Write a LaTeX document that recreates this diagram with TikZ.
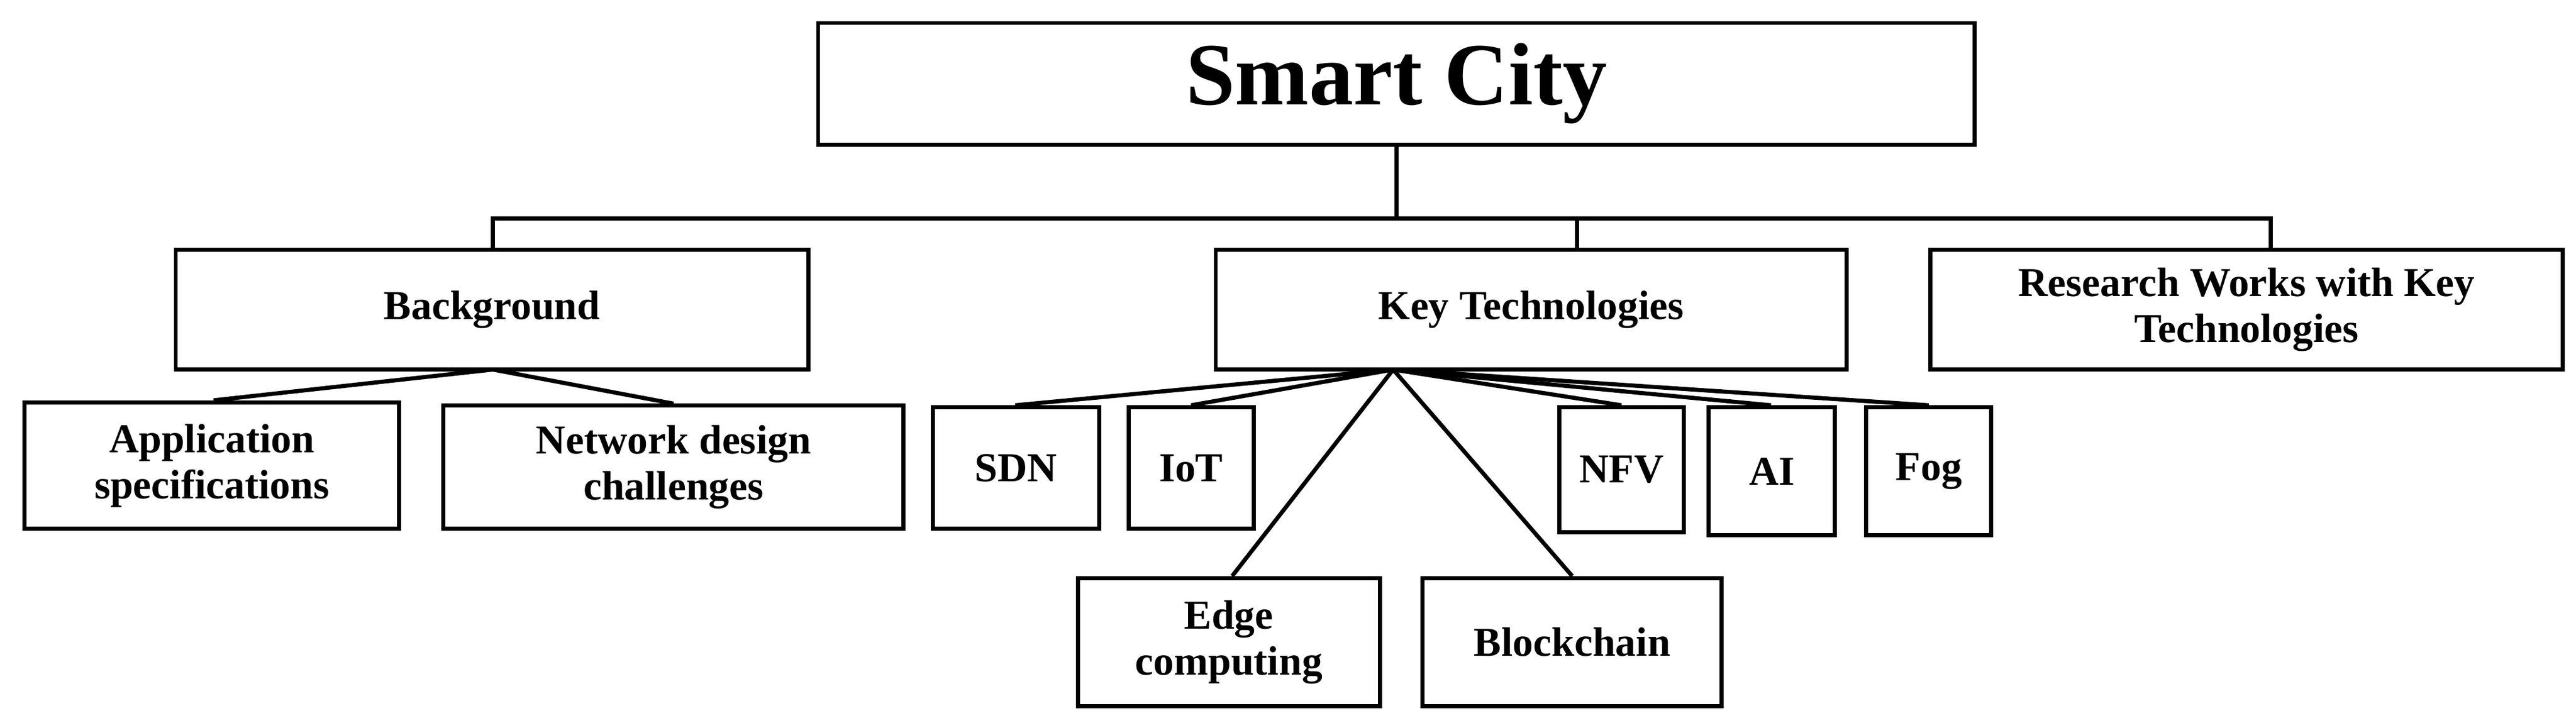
\documentclass[tikz,border=0pt]{standalone}
\usepackage{fontspec}
\setmainfont{Liberation Serif}
\begin{document}
\begin{tikzpicture}[x=1pt,y=-1pt,
  bx/.style={draw,line width=2.5pt,inner sep=0pt,align=center,font=\fontsize{25}{28}\selectfont\bfseries},
  ln/.style={line width=2.5pt}]
\useasboundingbox (0,0) rectangle (1568,440);
\newcommand{\bxn}[6]{\node[bx,minimum width={#4-#3},minimum height={#6-#5}] (#1) at ({(#3+#4)/2},{(#5+#6)/2}) {#2};}
\node[bx,minimum width=704,minimum height=74,font=\fontsize{54}{60}\selectfont\bfseries] (sc) at (850,51) {Smart City};
\bxn{bg}{Background}{107}{492}{152}{225}
\bxn{kt}{Key Technologies}{740}{1124}{152}{225}
\bxn{rw}{Research Works with Key\\Technologies}{1175}{1560}{152}{225}
\bxn{ap}{Application\\specifications}{15}{243}{245}{322}
\bxn{nd}{Network design\\challenges}{270}{550}{247}{322}
\bxn{sdn}{SDN}{568}{669}{248}{322}
\bxn{iot}{IoT}{687}{763}{248}{322}
\bxn{nfv}{NFV}{949}{1025}{248}{324}
\bxn{ai}{AI}{1040}{1117}{248}{326}
\bxn{fog}{Fog}{1136}{1212}{248}{326}
\bxn{ec}{Edge\\computing}{656}{840}{352}{430}
\bxn{bc}{Blockchain}{866}{1048}{352}{430}
\coordinate (j) at (850,133);
\draw[ln] (sc.south) -- (j);
\draw[ln] (bg.north -| 300,0) |- (j) -| (rw.north -| 1382,0);
\draw[ln] (960,133) -- (kt.north -| 960,0);
\coordinate (bgb) at (300,225);
\draw[ln] (bgb) -- (ap.north -| 130,0);
\draw[ln] (bgb) -- (nd.north -| 410,0);
\coordinate (ktb) at (848,225);
\foreach \n/\x in {sdn/618,iot/725,nfv/987,ai/1078,fog/1174,ec/750,bc/957}
  \draw[ln] (ktb) -- (\n.north -| \x,0);
\end{tikzpicture}
\end{document}
